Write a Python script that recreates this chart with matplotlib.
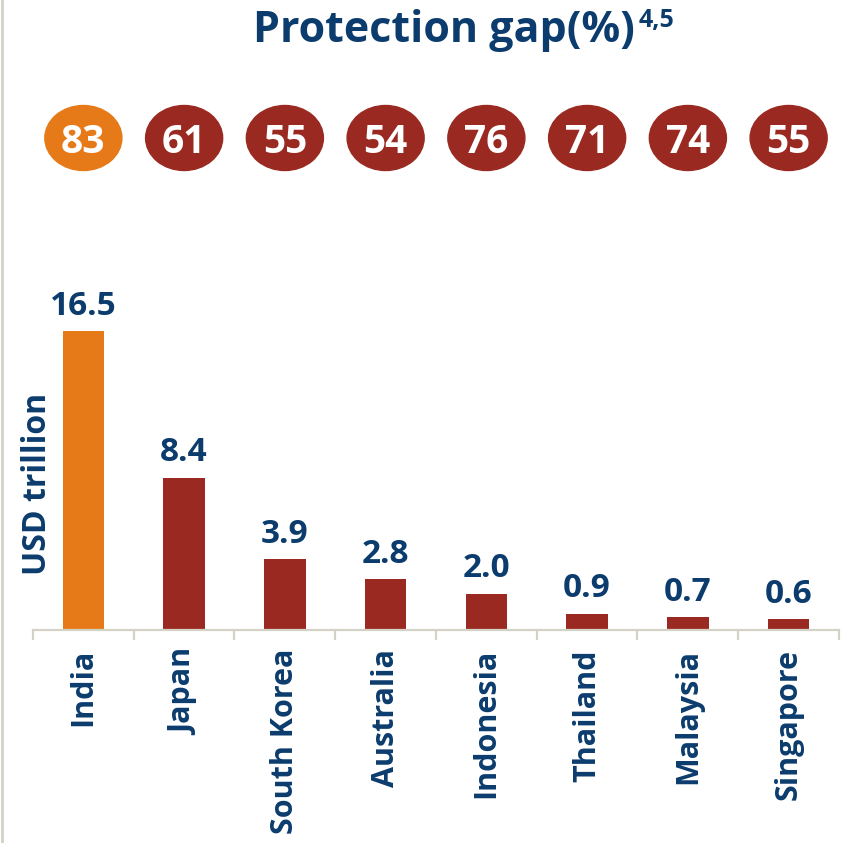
import matplotlib
matplotlib.use("Agg")
import matplotlib.pyplot as plt
from matplotlib.patches import Ellipse
from matplotlib.lines import Line2D
import matplotlib.transforms as mtrans
import numpy as np

countries = ["India", "Japan", "South Korea", "Australia", "Indonesia", "Thailand", "Malaysia", "Singapore"]
values = [16.5, 8.4, 3.9, 2.8, 2.0, 0.9, 0.7, 0.6]
value_labels = ["16.5", "8.4", "3.9", "2.8", "2.0", "0.9", "0.7", "0.6"]
gaps = [83, 61, 55, 54, 76, 71, 74, 55]

NAVY = "#0b3c6d"
ORANGE = "#e67a18"
RED = "#9a2a21"
GREY = "#d4d2c4"
colors = [ORANGE] + [RED] * 7

W, H = 849, 843
fig = plt.figure(figsize=(W / 100, H / 100), dpi=100)
plt.rcParams['font.family'] = ['Open Sans', 'DejaVu Sans']
FW = "bold"

px_per_unit = 18.12
base_px = 630
ax = fig.add_axes([33 / W, (H - base_px) / H, 806 / W, base_px / H])
ax.set_xlim(0, len(countries))
ax.set_ylim(0, base_px / px_per_unit)

x = np.arange(len(countries)) + 0.5
ax.bar(x, values, width=0.41, color=colors, zorder=2)

for xi, v, lab in zip(x, values, value_labels):
    ax.annotate(lab, (xi, v), xytext=(0, 6), textcoords="offset points",
                ha="center", va="bottom", fontsize=24, fontweight=FW, color=NAVY)

circle_y = (base_px - 138) / px_per_unit
ell_h = 65 / px_per_unit
for xi, g, c in zip(x, gaps, colors):
    ax.add_patch(Ellipse((xi, circle_y), 0.765, ell_h, color=c, clip_on=False, zorder=3))
    ax.text(xi, circle_y, str(g), ha="center", va="center_baseline", fontsize=28,
            fontweight=FW, color="white", zorder=4)

for s in ["top", "right", "left"]:
    ax.spines[s].set_visible(False)
ax.spines["bottom"].set_color(GREY)
ax.spines["bottom"].set_linewidth(1.6)
ax.set_yticks([])
ax.set_xticks(np.arange(len(countries) + 1))
ax.set_xticklabels([])
ax.tick_params(axis="x", length=7, width=1.6, color=GREY, direction="out")

off = mtrans.ScaledTranslation(0, -19 / 100, fig.dpi_scale_trans)
for xi, name in zip(x, countries):
    ax.text(xi, 0, name, transform=ax.get_xaxis_transform() + off, rotation=90,
            ha="center", va="top", fontsize=22, fontweight=FW, color=NAVY)

fig.text(38 / W, 1 - 484 / H, "USD trillion", rotation=90, ha="center", va="center",
         fontsize=23, fontweight=FW, color=NAVY)

t = fig.text(635 / W, 1 - 30 / H, "Protection gap(%)", ha="right", va="center",
             fontsize=31, fontweight=FW, color=NAVY)
fig.text(639 / W, 1 - 21 / H, "4,5", ha="left", va="center",
         fontsize=18, fontweight=FW, color=NAVY)

fig.add_artist(Line2D([1.5 / W, 1.5 / W], [0, 1], color=GREY, lw=2, transform=fig.transFigure))

fig.savefig("out.png", dpi=100)
